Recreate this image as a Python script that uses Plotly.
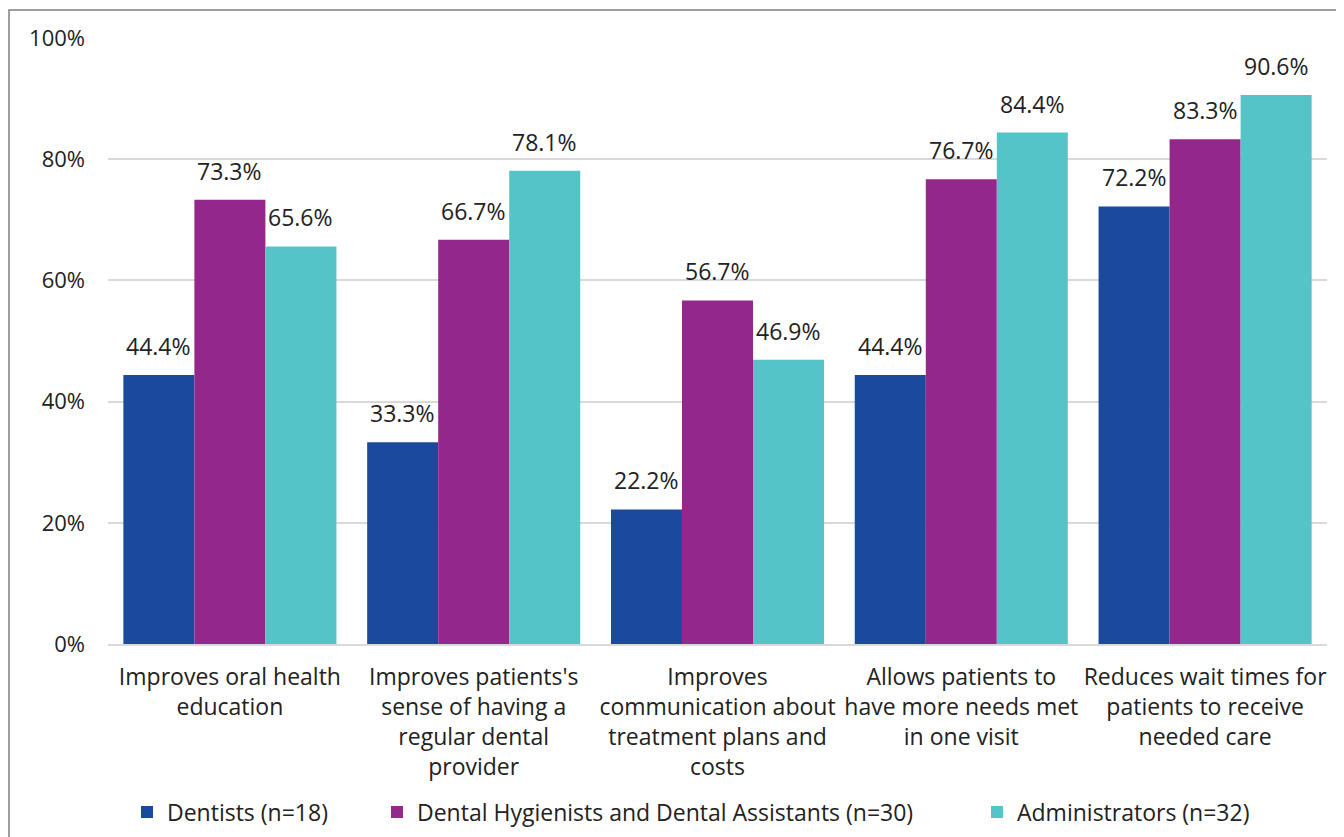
import plotly.graph_objects as go

categories = [
    "Improves oral health<br>education",
    "Improves patients's<br>sense of having a<br>regular dental<br>provider",
    "Improves<br>communication about<br>treatment plans and<br>costs",
    "Allows patients to<br>have more needs met<br>in one visit",
    "Reduces wait times for<br>patients to receive<br>needed care",
]
series_names = [
    "Dentists (n=18)",
    "Dental Hygienists and Dental Assistants (n=30)",
    "Administrators (n=32)",
]
dentists = [44.4, 33.3, 22.2, 44.4, 72.2]
hygienists = [73.3, 66.7, 56.7, 76.7, 83.3]
administrators = [65.6, 78.1, 46.9, 84.4, 90.6]
colors = ["#1B4A9C", "#93278A", "#55C4C8"]
y_ticks = [0, 20, 40, 60, 80, 100]
y_tick_labels = ["0%", "20%", "40%", "60%", "80%", "100%"]

FONT = "Open Sans"
FS = 23
FS_TICK = 22
TXT = "#222222"

# page has an 8px body margin; figure is placed at (8, 8)
OFF = 8
PAGE_W, PAGE_H = 1344, 837
W, H = PAGE_W - OFF, PAGE_H - OFF
plot_left, plot_right, plot_top, plot_bottom = 108, 1327, 38, 644  # page pixels
ml = plot_left - OFF
mr = PAGE_W - plot_right
mt = plot_top - OFF
mb = PAGE_H - plot_bottom
pw, ph = W - ml - mr, H - mt - mb
BARGAP = 0.126
bar_px = pw / len(categories) * (1 - BARGAP) / 3


def px(x):  # page pixel x -> paper
    return (x - plot_left) / pw


def py(y):  # page pixel y -> paper
    return (plot_bottom - y) / ph


fig = go.Figure()
legend_ids = ["legend", "legend2", "legend3"]
all_series = [dentists, hygienists, administrators]
annotations = []
for i, (name, vals, col, lg) in enumerate(zip(series_names, all_series, colors, legend_ids)):
    fig.add_trace(go.Bar(
        x=categories, y=vals, name=name, marker_color=col, marker_line_width=0,
        legend=lg,
    ))
    for cat, v in zip(categories, vals):
        annotations.append(dict(
            x=cat, y=v, xref="x", yref="y", text=f"{v:.1f}%", showarrow=False,
            xanchor="center", yanchor="bottom", xshift=(i - 1) * bar_px, yshift=11,
            font=dict(family=FONT, size=FS, color=TXT),
        ))

leg_common = dict(orientation="h", font=dict(family=FONT, size=FS, color=TXT),
                  yanchor="middle", y=py(812), xanchor="left", bgcolor="rgba(0,0,0,0)")
fig.update_layout(
    width=W, height=H,
    margin=dict(l=ml, r=mr, t=mt, b=mb, autoexpand=False),
    paper_bgcolor="white", plot_bgcolor="white",
    barmode="group", bargap=BARGAP, bargroupgap=0,
    font=dict(family=FONT, size=FS, color=TXT),
    legend=dict(**leg_common, x=px(127)),
    legend2=dict(**leg_common, x=px(377)),
    legend3=dict(**leg_common, x=px(977)),
    showlegend=True,
    yaxis=dict(range=[0, 100], tickvals=y_ticks, ticktext=y_tick_labels, showgrid=True,
               gridcolor="#D9D9D9", gridwidth=1.5, zeroline=False, showline=False,
               ticks="", ticklabelstandoff=22, tickfont=dict(family=FONT, size=FS_TICK, color=TXT)),
    xaxis=dict(showline=True, linecolor="#D9D9D9", linewidth=1.5, ticks="",
               tickfont=dict(family=FONT, size=FS, color=TXT), ticklabelstandoff=12),
    annotations=annotations,
    shapes=[dict(type="rect", xref="paper", yref="paper",
                 x0=px(9), x1=px(PAGE_W + 20), y0=py(PAGE_H + 20), y1=py(10),
                 line=dict(color="#7F7F7F", width=1.5), layer="below")],
)
fig.write_html("out.html")
